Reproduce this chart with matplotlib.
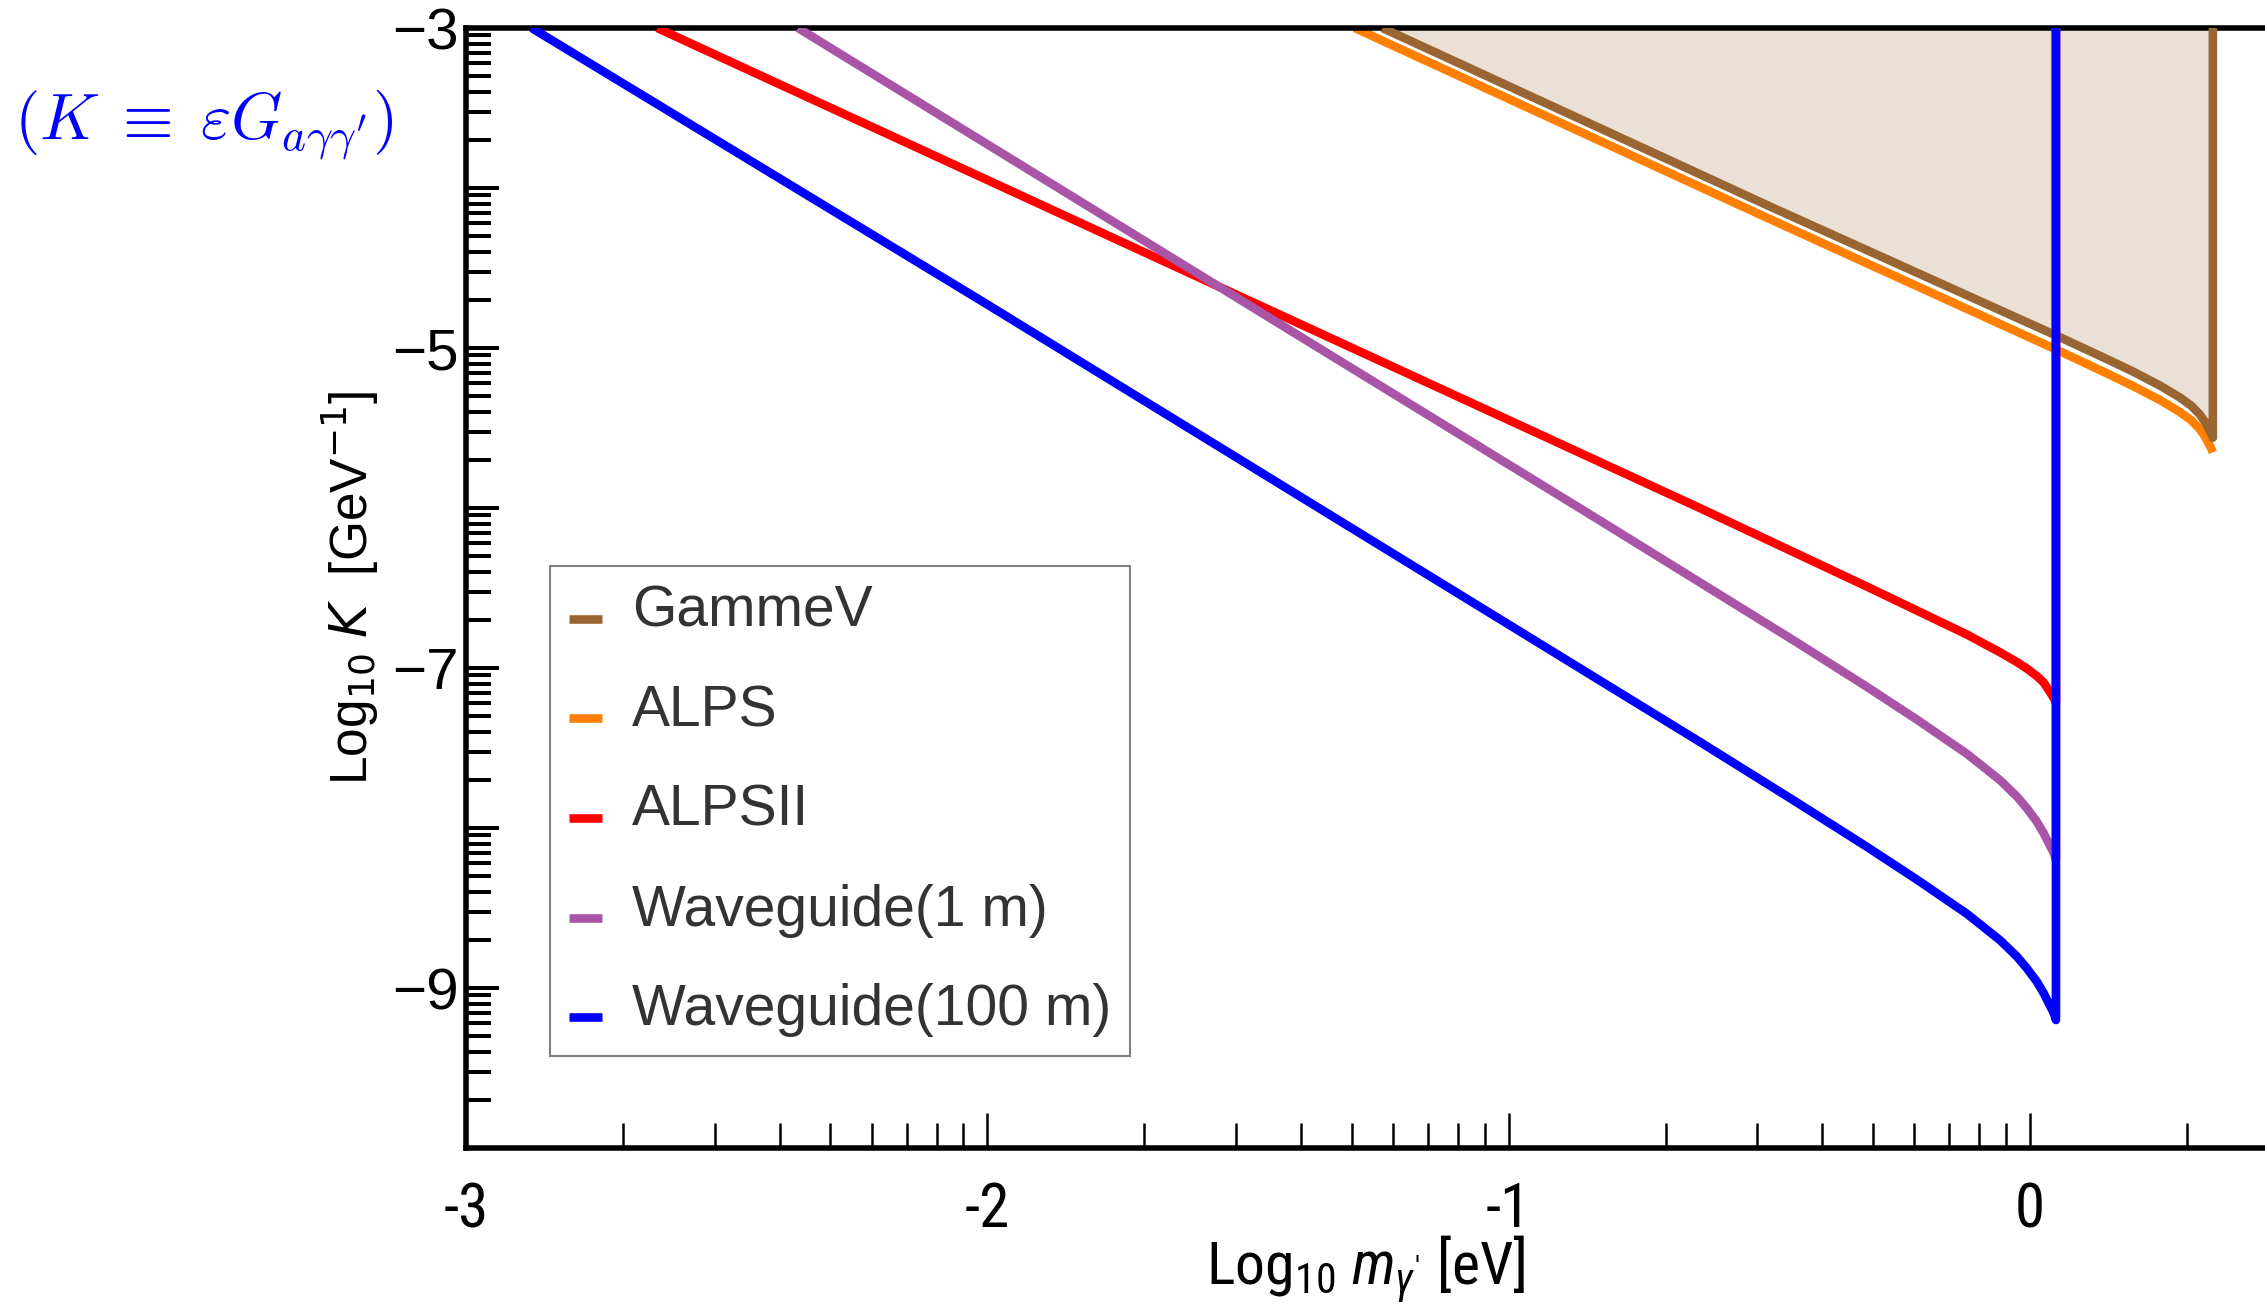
import numpy as np
import matplotlib
matplotlib.use("Agg")
import matplotlib.pyplot as plt
from matplotlib import font_manager as fm
from matplotlib.legend_handler import HandlerLine2D

# values (log10 m [eV], log10 K [GeV^-1])
gammev_x = [-1.242, -0.499, 0.0525, 0.15, 0.1985, 0.25, 0.288, 0.31, 0.326, 0.336, 0.342, 0.347, 0.351, 0.351]
gammev_y = [-3.0, -4.115, -4.925, -5.073, -5.1485, -5.236, -5.310, -5.362, -5.416, -5.4625, -5.499, -5.531, -5.561, -3.0]

alps_x = [-1.295, -0.499, 0.0525, 0.15, 0.1985, 0.25, 0.288, 0.31, 0.326, 0.336, 0.342, 0.347, 0.351]
alps_y = [-3.0, -4.194, -5.0128, -5.162, -5.239, -5.326, -5.401, -5.453, -5.507, -5.554, -5.591, -5.622, -5.652]

alpsii_x = [-2.633, -1.496, -0.633, -0.313, -0.121, -0.057, -0.025, -0.006, 0.013, 0.026, 0.035, 0.042, 0.047, 0.050, 0.050]
alpsii_y = [-3.0, -4.706, -6.0005, -6.4905, -6.7905, -6.9025, -6.9625, -7.003, -7.0495, -7.089, -7.1325, -7.168, -7.1955, -7.22, -3.0]

wg1_x = [-2.363, -1.496, -0.831, -0.45, -0.313, -0.217, -0.121, -0.057, -0.025, -0.006, 0.013, 0.026, 0.035, 0.042, 0.047, 0.050, 0.050]
wg1_y = [-3.0, -4.736, -6.066, -6.834, -7.117, -7.322, -7.536, -7.702, -7.803, -7.876, -7.959, -8.030, -8.088, -8.132, -8.167, -8.200, -3.0]

wg100_x = [-2.874, -2.004, -1.496, -0.633, -0.45, -0.313, -0.217, -0.121, -0.057, -0.025, -0.006, 0.013, 0.026, 0.035, 0.042, 0.047, 0.050, 0.050]
wg100_y = [-3.0, -4.72, -5.736, -7.462, -7.834, -8.117, -8.322, -8.536, -8.702, -8.803, -8.876, -8.959, -9.030, -9.088, -9.132, -9.167, -9.200, -3.0]

labels = ["GammeV", "ALPS", "ALPSII", "Waveguide(1 m)", "Waveguide(100 m)"]
colors = ["#996633", "#FF8000", "#FF0000", "#A855A8", "#0000FF"]

x_major = [-3, -2, -1, 0]
x_labels = ["-3", "-2", "-1", "0"]
y_major = [-3, -4, -5, -6, -7, -8, -9, -10]
y_labels = ["\u22123", "", "\u22125", "", "\u22127", "", "\u22129", ""]


def pick_narrow():
    # look for a condensed sans face, else plain Liberation Sans
    prefs = ["Liberation Sans Narrow", "Arial Narrow", "Roboto Condensed",
             "Open Sans Condensed", "Noto Sans", "DejaVu Sans"]
    for name in prefs:
        for f in fm.fontManager.ttflist:
            if f.name != name or f.style != "normal" or f.weight not in (400, "normal", "regular"):
                continue
            if "Narrow" in name or "Condensed" in name or f.stretch == "condensed":
                return name, f.stretch
    return "Liberation Sans", "normal"


narrow, narrow_stretch = pick_narrow()

plt.rcParams["mathtext.fontset"] = "custom"
plt.rcParams["mathtext.rm"] = f"{narrow}:stretch={narrow_stretch}"
plt.rcParams["mathtext.it"] = f"{narrow}:italic:stretch={narrow_stretch}"

W, H = 2265, 1308
fig = plt.figure(figsize=(W / 100, H / 100), dpi=100)
ax = fig.add_axes([466 / W, 1 - 1148 / H, 1799 / W, 1120 / H])

lw = 6.2
ax.fill_between(gammev_x, gammev_y, -3, color="#996633", alpha=0.2, lw=0, zorder=1)
kw = dict(lw=lw, solid_capstyle="butt", solid_joinstyle="round")
l_alps, = ax.plot(alps_x, alps_y, color=colors[1], zorder=2, **kw)
l_gam, = ax.plot(gammev_x, gammev_y, color=colors[0], zorder=3, **kw)
l_a2, = ax.plot(alpsii_x, alpsii_y, color=colors[2], zorder=4, **kw)
l_w1, = ax.plot(wg1_x, wg1_y, color=colors[3], zorder=5, **kw)
l_w100, = ax.plot(wg100_x, wg100_y, color=colors[4], zorder=6, **kw)

ax.set_xlim(-3, 0.451)
ax.set_ylim(-10, -3)

# log-style minor ticks inside each decade
x_minor = [d + np.log10(k) for d in range(-3, 1) for k in range(2, 10)]
x_minor = [v for v in x_minor if v < 0.451]
y_minor = [d + np.log10(k) for d in range(-10, -3) for k in range(2, 10)]

ax.set_xticks(x_major, labels=x_labels, fontfamily=narrow, fontstretch=narrow_stretch, fontsize=44)
ax.set_xticks(x_minor, minor=True)
ax.set_yticks(y_major, labels=y_labels, fontfamily="Liberation Sans", fontsize=42)
ax.set_yticks(y_minor, minor=True)

ax.tick_params(axis="y", which="major", direction="in", width=2.9, length=24, pad=5)
ax.tick_params(axis="y", which="minor", direction="in", width=2.9, length=18)
ax.tick_params(axis="x", which="major", direction="in", width=1.8, length=25, pad=24)
ax.tick_params(axis="x", which="minor", direction="in", width=1.8, length=18)

for s in ["left", "bottom", "top"]:
    ax.spines[s].set_linewidth(4)
    ax.spines[s].set_color("k")
ax.spines["right"].set_visible(False)

ax.set_xlabel(r"Log$_{10}$ $m_{\gamma'}$ [eV]", fontfamily=narrow, fontstretch=narrow_stretch, fontsize=43)
ax.xaxis.set_label_coords(0.5, -0.077)
ax.set_ylabel(r"Log$_{10}$ $K$  [GeV$^{-1}$]", fontfamily="Liberation Sans",
              fontsize=37, math_fontfamily="dejavusans")
ax.yaxis.set_label_coords(-0.047, 0.5)

fig.text(14 / W, 1 - 125 / H, r"$(K\;\equiv\;\varepsilon G_{a\gamma\gamma'})$",
         color="#0000FF", fontsize=47, math_fontfamily="cm", ha="left", va="center")


class LowLine(HandlerLine2D):
    # legend marks sit a little below the text centre, as in the original
    def create_artists(self, legend, orig_handle, xdescent, ydescent, width, height, fontsize, trans):
        return super().create_artists(legend, orig_handle, xdescent, ydescent + 0.42 * fontsize,
                                      width, height, fontsize, trans)


handles = [l_gam, l_alps, l_a2, l_w1, l_w100]
leg = ax.legend(handles, labels, loc="upper left",
                bbox_to_anchor=(0.0467, 0.5196), borderaxespad=0, fancybox=False,
                edgecolor="#7f7f7f", framealpha=1,
                prop={"family": "Liberation Sans", "size": 41},
                handler_map={h: LowLine() for h in handles},
                handlelength=0.58, handletextpad=0.53, borderpad=0.33, labelspacing=0.8)
leg.get_frame().set_linewidth(1.5)
for t in leg.get_texts():
    t.set_color("#333333")

fig.savefig("out.png", dpi=100)
